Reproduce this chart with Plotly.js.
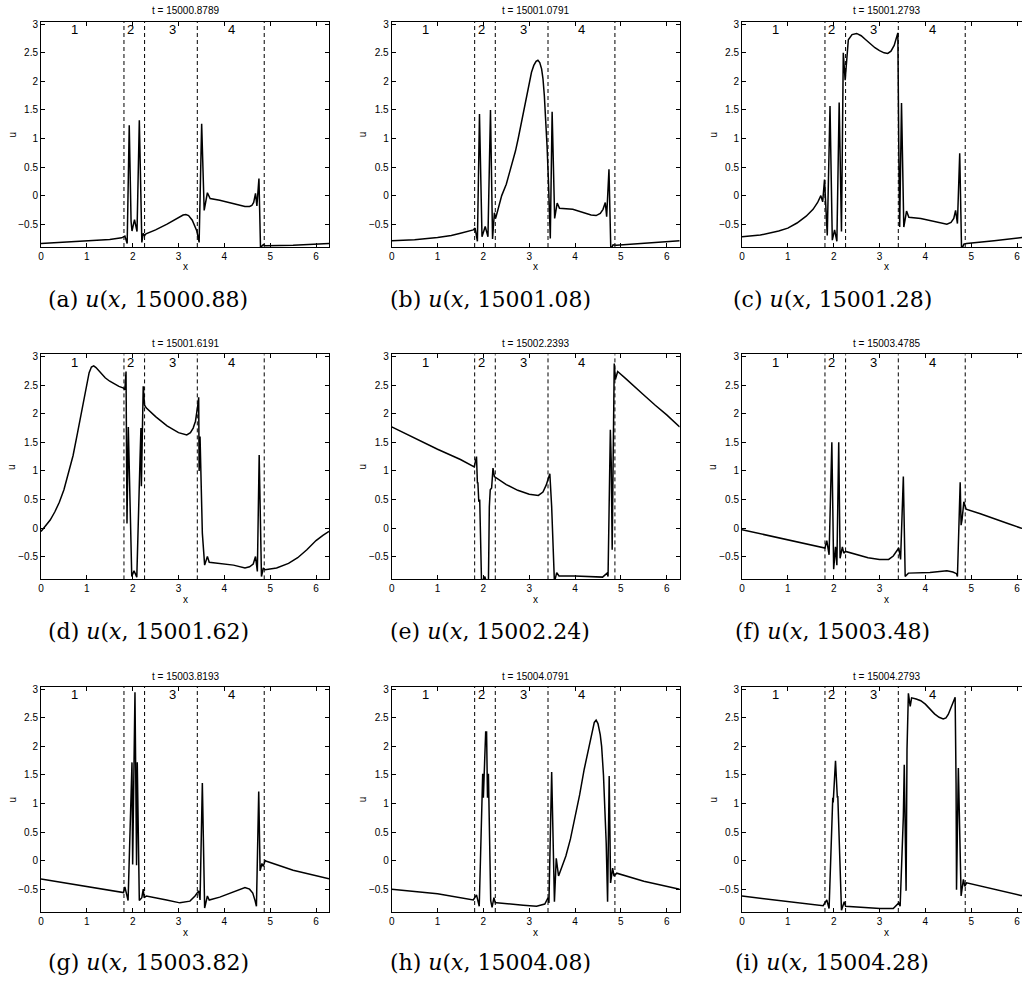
<!DOCTYPE html>
<html>
<head>
<meta charset="utf-8">
<script src="https://cdn.plot.ly/plotly-3.0.1.min.js"></script>
<style>
html, body { margin: 0; padding: 0; overflow: hidden; background: #fff; }
#chart { width: 1040px; height: 987px; }
</style>
</head>
<body>
<div id="chart"></div>
<script>
// ---------------- data ----------------
const panelLetters = ['a', 'b', 'c', 'd', 'e', 'f', 'g', 'h', 'i'];
const panelTitles = ['t = 15000.8789', 't = 15001.0791', 't = 15001.2793',
                     't = 15001.6191', 't = 15002.2393', 't = 15003.4785',
                     't = 15003.8193', 't = 15004.0791', 't = 15004.2793'];
const captionTimes = ['15000.88', '15001.08', '15001.28',
                      '15001.62', '15002.24', '15003.48',
                      '15003.82', '15004.08', '15004.28'];
const regionBounds = [1.81, 2.26, 3.41, 4.87];
const regionNames = ['1', '2', '3', '4'];
const regionNameX = [0.74, 1.96, 2.87, 4.15];
const regionNameY = 2.9;
const xTickVals = [0, 1, 2, 3, 4, 5, 6];
const xTickText = ['0', '1', '2', '3', '4', '5', '6'];
const yTickVals = [-0.5, 0, 0.5, 1, 1.5, 2, 2.5, 3];
const yTickText = ['\u22120.5', '0', '0.5', '1', '1.5', '2', '2.5', '3'];

const xa = [0, 1.0, 1.5, 1.76, 1.80, 1.83, 1.88, 1.925, 1.965, 1.985, 2.04, 2.095, 2.145, 2.20, 2.23, 2.26, 2.29, 2.5, 2.75, 3.0, 3.1, 3.16, 3.22, 3.3, 3.36, 3.4, 3.43, 3.45, 3.505, 3.56, 3.63, 3.69, 3.9, 4.1, 4.3, 4.45, 4.55, 4.6, 4.64, 4.68, 4.71, 4.755, 4.79, 4.82, 4.85, 4.9, 5.5, 6.2832];
const ua = [-0.84, -0.80, -0.77, -0.74, -0.73, -0.71, -0.84, 1.23, -0.45, -0.62, -0.42, -0.63, 1.32, -0.82, -0.66, -0.70, -0.67, -0.60, -0.50, -0.39, -0.34, -0.33, -0.35, -0.43, -0.53, -0.62, -0.74, -0.82, 1.26, -0.26, 0.05, -0.05, -0.08, -0.12, -0.16, -0.19, -0.19, -0.17, -0.12, 0.04, -0.18, 0.30, -0.95, -0.88, -0.86, -0.88, -0.87, -0.84];

const xb = [0, 0.5, 1.0, 1.3, 1.5, 1.65, 1.78, 1.82, 1.87, 1.915, 1.97, 2.04, 2.10, 2.155, 2.20, 2.24, 2.265, 2.3, 2.35, 2.4, 2.5, 2.61, 2.7, 2.76, 2.82, 2.88, 2.94, 3.0, 3.05, 3.1, 3.15, 3.19, 3.23, 3.27, 3.3, 3.33, 3.36, 3.39, 3.42, 3.44, 3.46, 3.50, 3.555, 3.61, 3.66, 3.95, 4.2, 4.35, 4.46, 4.55, 4.61, 4.66, 4.69, 4.74, 4.78, 4.83, 4.9, 5.5, 6.2832];
const ub = [-0.79, -0.775, -0.735, -0.70, -0.66, -0.63, -0.60, -0.57, -0.80, 1.43, -0.72, -0.54, -0.72, 1.50, -0.76, -0.30, -0.40, -0.30, -0.15, 0.0, 0.2, 0.5, 0.78, 1.0, 1.25, 1.5, 1.76, 2.0, 2.16, 2.28, 2.35, 2.37, 2.33, 2.22, 2.05, 1.75, 1.35, 0.85, 0.25, -0.30, -0.75, 1.47, -0.40, -0.13, -0.22, -0.24, -0.30, -0.34, -0.35, -0.31, -0.24, -0.12, -0.37, 0.46, -0.95, -0.86, -0.87, -0.84, -0.79];

const xc = [0, 0.4, 0.8, 1.0, 1.2, 1.4, 1.55, 1.65, 1.72, 1.76, 1.80, 1.86, 1.92, 1.97, 2.02, 2.07, 2.12, 2.17, 2.21, 2.25, 2.32, 2.4, 2.5, 2.6, 2.7, 2.8, 2.9, 3.0, 3.1, 3.18, 3.25, 3.32, 3.37, 3.4, 3.42, 3.44, 3.48, 3.53, 3.59, 3.64, 3.9, 4.2, 4.47, 4.56, 4.62, 4.66, 4.7, 4.75, 4.79, 4.84, 4.9, 5.5, 6.08, 6.2832];
const uc = [-0.72, -0.69, -0.62, -0.57, -0.48, -0.36, -0.24, -0.12, 0.0, -0.11, 0.28, -0.70, 1.57, -0.78, -0.60, -0.80, 1.63, -0.63, 2.50, 2.02, 2.73, 2.82, 2.84, 2.80, 2.73, 2.66, 2.59, 2.54, 2.50, 2.49, 2.53, 2.63, 2.75, 2.85, 0.9, -0.55, 1.62, -0.55, -0.27, -0.38, -0.40, -0.45, -0.50, -0.47, -0.40, -0.26, -0.49, 0.74, -0.95, -0.85, -0.84, -0.79, -0.73, -0.72];

const xd = [0, 0.1, 0.2, 0.3, 0.4, 0.5, 0.6, 0.7, 0.8, 0.9, 1.0, 1.05, 1.1, 1.15, 1.2, 1.3, 1.4, 1.5, 1.6, 1.7, 1.80, 1.83, 1.855, 1.876, 1.905, 1.98, 2.03, 2.09, 2.16, 2.18, 2.19, 2.205, 2.23, 2.26, 2.3, 2.5, 2.75, 3.0, 3.1, 3.18, 3.26, 3.32, 3.37, 3.40, 3.43, 3.44, 3.45, 3.47, 3.49, 3.52, 3.57, 3.63, 3.67, 3.9, 4.2, 4.45, 4.55, 4.63, 4.68, 4.72, 4.76, 4.81, 4.85, 4.89, 5.14, 5.4, 5.6, 5.8, 6.0, 6.15, 6.2832];
const ud = [-0.06, 0.04, 0.14, 0.28, 0.45, 0.67, 0.95, 1.27, 1.68, 2.10, 2.52, 2.72, 2.82, 2.84, 2.81, 2.72, 2.63, 2.57, 2.52, 2.48, 2.45, 2.42, 2.74, 0.08, 1.77, -0.85, -0.75, -0.86, 1.2, 1.75, 0.73, 1.75, 2.48, 2.15, 2.10, 1.95, 1.79, 1.67, 1.64, 1.63, 1.67, 1.75, 1.87, 2.0, 2.2, 2.29, 1.0, 1.6, 0.99, -0.09, -0.65, -0.5, -0.6, -0.62, -0.65, -0.70, -0.68, -0.63, -0.5, -0.76, 1.28, -0.85, -0.70, -0.73, -0.70, -0.62, -0.52, -0.38, -0.22, -0.13, -0.06];

const xe = [0, 0.69, 1.0, 1.5, 1.80, 1.85, 1.87, 1.88, 1.90, 1.92, 1.96, 2.03, 2.07, 2.11, 2.13, 2.15, 2.18, 2.21, 2.24, 2.29, 2.5, 2.75, 3.0, 3.2, 3.3, 3.37, 3.42, 3.45, 3.49, 3.53, 3.55, 3.6, 3.65, 4.0, 4.6, 4.7, 4.72, 4.77, 4.79, 4.81, 4.83, 4.855, 4.88, 4.93, 5.1, 5.3, 5.5, 5.75, 6.0, 6.2832];
const ue = [1.77, 1.50, 1.38, 1.20, 1.07, 1.25, 0.78, 0.80, 0.46, 0.50, -0.95, -0.85, -0.95, -0.95, 0.37, 0.67, 0.70, 1.05, 0.90, 0.87, 0.76, 0.66, 0.59, 0.57, 0.63, 0.75, 0.88, 0.95, 0.37, -0.45, -0.95, -0.78, -0.84, -0.84, -0.86, -0.79, -0.85, 1.72, 1.13, -0.38, 1.0, 2.88, 2.6, 2.74, 2.62, 2.47, 2.33, 2.15, 1.98, 1.77];

const xf = [0, 1.77, 1.81, 1.85, 1.90, 1.96, 2.00, 2.04, 2.07, 2.11, 2.14, 2.19, 2.22, 2.26, 2.5, 2.75, 3.0, 3.2, 3.3, 3.36, 3.42, 3.46, 3.52, 3.56, 3.63, 4.1, 4.47, 4.6, 4.68, 4.70, 4.76, 4.78, 4.80, 4.84, 4.89, 5.2, 5.5, 5.8, 6.08, 6.2832];
const uf = [-0.03, -0.34, -0.35, -0.22, -0.47, 1.50, -0.72, -0.33, -0.65, 1.50, -0.53, -0.33, -0.44, -0.41, -0.47, -0.52, -0.55, -0.55, -0.49, -0.41, -0.35, -0.55, 0.90, -0.85, -0.79, -0.78, -0.75, -0.77, -0.80, -0.85, 0.80, 0.05, 0.14, 0.46, 0.33, 0.25, 0.17, 0.08, 0.0, -0.03];

const xg = [0, 1.0, 1.76, 1.80, 1.83, 1.90, 1.985, 2.0, 2.05, 2.085, 2.10, 2.145, 2.20, 2.23, 2.25, 2.30, 2.74, 3.03, 3.25, 3.36, 3.44, 3.47, 3.52, 3.57, 3.63, 3.67, 3.9, 4.1, 4.3, 4.45, 4.55, 4.62, 4.67, 4.70, 4.75, 4.78, 4.82, 4.85, 4.89, 4.92, 5.5, 6.2832];
const ug = [-0.32, -0.46, -0.56, -0.56, -0.46, -0.70, 1.72, -0.07, 2.95, -0.08, 1.72, -0.70, -0.65, -0.50, -0.65, -0.62, -0.69, -0.74, -0.71, -0.62, -0.53, -0.69, 1.36, -0.83, -0.62, -0.69, -0.64, -0.58, -0.51, -0.47, -0.50, -0.57, -0.70, -0.80, 1.21, -0.18, -0.05, -0.10, 0.0, -0.01, -0.17, -0.32];

const xh = [0, 1.0, 1.78, 1.85, 1.91, 1.985, 2.0, 2.05, 2.07, 2.09, 2.11, 2.16, 2.19, 2.23, 2.26, 2.29, 2.87, 3.16, 3.34, 3.41, 3.43, 3.49, 3.55, 3.59, 3.64, 3.67, 3.72, 3.8, 3.9, 4.0, 4.1, 4.2, 4.3, 4.37, 4.42, 4.46, 4.5, 4.55, 4.58, 4.62, 4.65, 4.68, 4.71, 4.745, 4.775, 4.82, 4.85, 4.91, 5.5, 6.2832];
const uh = [-0.50, -0.58, -0.69, -0.60, -0.80, 1.52, 1.10, 2.25, 2.25, 1.10, 1.52, -0.70, -0.82, -0.65, -0.74, -0.74, -0.78, -0.80, -0.76, -0.65, -0.74, 1.55, -0.72, 0.04, -0.27, -0.20, -0.10, 0.08, 0.38, 0.75, 1.15, 1.60, 2.00, 2.28, 2.42, 2.46, 2.40, 2.20, 2.00, 1.50, 1.00, 0.30, -0.72, 1.48, -0.39, -0.13, -0.27, -0.22, -0.36, -0.50];

const xi = [0, 1.0, 1.77, 1.85, 1.90, 1.98, 1.99, 2.04, 2.08, 2.09, 2.17, 2.23, 2.26, 2.43, 3.01, 3.3, 3.42, 3.45, 3.52, 3.54, 3.56, 3.58, 3.60, 3.63, 3.67, 3.70, 3.8, 3.9, 4.0, 4.1, 4.2, 4.3, 4.39, 4.45, 4.5, 4.55, 4.6, 4.65, 4.67, 4.68, 4.72, 4.74, 4.78, 4.83, 4.86, 4.90, 6.08, 6.2832];
const ui = [-0.62, -0.71, -0.79, -0.69, -0.84, 1.10, 1.02, 1.75, 1.10, 1.13, -0.87, -0.72, -0.80, -0.81, -0.84, -0.84, -0.74, -0.80, 0.77, 1.68, 0.48, -0.53, 1.94, 2.93, 2.70, 2.85, 2.83, 2.80, 2.74, 2.65, 2.57, 2.51, 2.48, 2.50, 2.56, 2.66, 2.77, 2.86, 1.36, -0.51, 1.62, 0.78, -0.62, -0.33, -0.45, -0.39, -0.61, -0.62];

const panelX = [xa, xb, xc, xd, xe, xf, xg, xh, xi];
const panelU = [ua, ub, uc, ud, ue, uf, ug, uh, ui];

// ---------------- layout geometry (pixels) ----------------
const W = 1040, H = 987;
const colLeft = [41, 391.7, 742];
const rowTop = [22, 354.4, 687];
const plotW = 288, plotH = 225;
const capCX = [148, 490, 832];
const capCY = [299, 631, 962];
const yRange = [-0.9, 3.04];
const xRange = [0, 2 * Math.PI];

const sans = 'Liberation Sans, Arial, sans-serif';
const axisFont = { family: sans, size: 10, color: '#000' };
const traces = [];
const layout = {
  width: W, height: H,
  margin: { l: 0, r: 0, t: 0, b: 0 },
  paper_bgcolor: '#fff', plot_bgcolor: '#fff',
  showlegend: false,
  shapes: [], annotations: []
};

for (let k = 0; k < 9; k++) {
  const r = Math.floor(k / 3), c = k % 3;
  const n = k === 0 ? '' : String(k + 1);
  const xa_ = 'x' + n, ya_ = 'y' + n;
  traces.push({
    x: panelX[k], y: panelU[k], xaxis: xa_, yaxis: ya_,
    type: 'scatter', mode: 'lines',
    line: { color: '#000', width: 1.5 },
    hoverinfo: 'skip'
  });
  const left = colLeft[c], top = rowTop[r];
  const common = {
    showline: true, linecolor: '#000', linewidth: 1, mirror: 'ticks',
    ticks: 'inside', ticklen: 4, tickwidth: 1, tickcolor: '#000',
    showgrid: false, zeroline: false, tickfont: axisFont, fixedrange: true
  };
  layout['xaxis' + n] = Object.assign({}, common, {
    domain: [left / W, (left + plotW) / W], range: xRange,
    anchor: ya_, tickmode: 'array', tickvals: xTickVals, ticktext: xTickText
  });
  layout['yaxis' + n] = Object.assign({}, common, {
    domain: [1 - (top + plotH) / H, 1 - top / H], range: yRange,
    anchor: xa_, tickmode: 'array', tickvals: yTickVals, ticktext: yTickText
  });

  regionBounds.forEach(b => layout.shapes.push({
    type: 'line', xref: xa_, yref: ya_ + ' domain', x0: b, x1: b, y0: 0, y1: 1,
    line: { color: '#000', width: 1, dash: '4px,3px' }
  }));

  regionNames.forEach((t, j) => {
    if (k === 6 && j === 1) return; // hidden under the spike in (g)
    layout.annotations.push({
      xref: xa_, yref: ya_, x: regionNameX[j], y: regionNameY, text: t,
      showarrow: false, xanchor: 'center', yanchor: 'middle',
      font: { family: sans, size: 13, color: '#000' }
    });
  });

  layout.annotations.push({
    xref: xa_ + ' domain', yref: ya_ + ' domain', x: 0.5, y: 1, yshift: 11,
    text: panelTitles[k], showarrow: false, xanchor: 'center', yanchor: 'middle',
    font: { family: sans, size: 10, color: '#000' }
  });
  layout.annotations.push({
    xref: xa_ + ' domain', yref: ya_ + ' domain', x: 0.5, y: 0, yshift: -20,
    text: 'x', showarrow: false, xanchor: 'center', yanchor: 'middle',
    font: { family: sans, size: 10, color: '#000' }
  });
  layout.annotations.push({
    xref: xa_ + ' domain', yref: ya_ + ' domain', x: 0, xshift: -29, y: 0.5,
    text: 'u', textangle: -90, showarrow: false, xanchor: 'center', yanchor: 'middle',
    font: { family: sans, size: 10, color: '#000' }
  });
  layout.annotations.push({
    xref: 'paper', yref: 'paper', x: capCX[c] / W, y: 1 - capCY[r] / H,
    text: '(' + panelLetters[k] + ') <i>u</i>(<i>x</i>, ' + captionTimes[k] + ')',
    showarrow: false, xanchor: 'center', yanchor: 'middle',
    font: { family: 'DejaVu Serif, serif', size: 22, color: '#000' }
  });
}

Plotly.newPlot('chart', traces, layout, { staticPlot: true, displayModeBar: false });
</script>
</body>
</html>
